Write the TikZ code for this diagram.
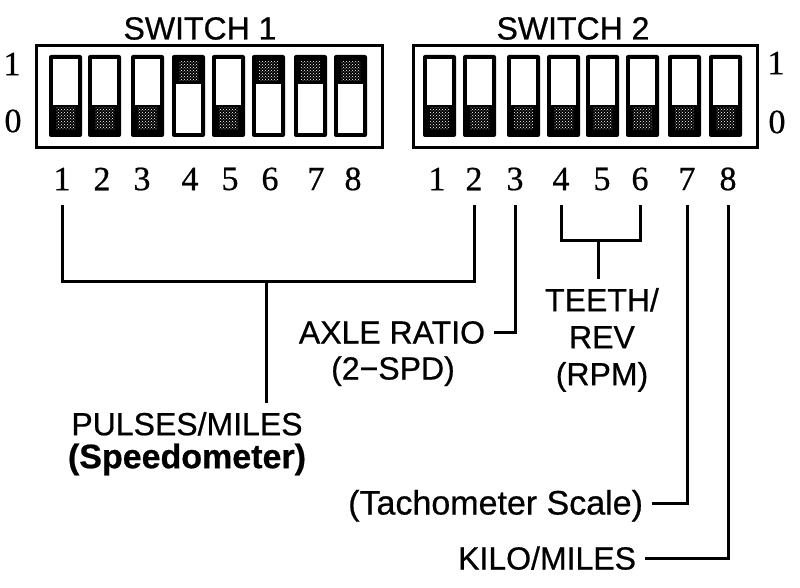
\documentclass[tikz,border=0pt]{standalone}
\usepackage{fontspec}
\setmainfont{Liberation Serif}
\setsansfont{Liberation Sans}
\newfontfamily\lblfont{Liberation Sans}[FakeBold=0.6]
\newfontfamily\numfont{Liberation Serif}[FakeBold=0.6]
\usepackage{tikz}
\usetikzlibrary{patterns}

% one slot of a dip switch: left edge, state (0 or 1)
\newcommand{\dipslot}[2]{%
  \fill[black, rounded corners=2pt] (#1,55) rectangle (#1+33,137);
  \fill[white] (#1+4,59) rectangle (#1+29,133);
  \ifnum#2=1
    \fill[black] (#1+4,59) rectangle (#1+29,84);
    \fill[pattern=crosshatch dots, pattern color=white] (#1+7,62) rectangle (#1+26,81);
  \else
    \fill[black] (#1+4,105) rectangle (#1+29,133);
    \fill[pattern=crosshatch dots, pattern color=white] (#1+7,108) rectangle (#1+26,130);
  \fi}

\begin{document}
\begin{tikzpicture}[x=1pt, y=-1pt,
  swnum/.style={font=\numfont\fontsize{34}{36}\selectfont, inner sep=0pt, outer sep=15pt},
  title/.style={font=\lblfont\fontsize{32}{34}\selectfont, text height=23pt, text depth=0pt, inner sep=0pt},
  lbl/.style={font=\lblfont\fontsize{32}{33}\selectfont, inner sep=0pt, outer sep=9pt, align=center},
  lblone/.style={lbl, text height=23pt, text depth=0pt},
  wire/.style={line width=3pt}]
\useasboundingbox (0,0) rectangle (800,588);
% the two switch blocks
\draw[line width=3pt] (36,46) rectangle (382,148);
\draw[line width=3pt] (413,46) rectangle (757,148);
\node[title] (sw1) at (200,28) {SWITCH 1};
\node[title] (sw2) at (573,28) {SWITCH 2};
\foreach \x/\s in {49/0,88/0,131/0,172/1,212/0,252/1,294/1,334/1}
  {\dipslot{\x}{\s}}
\foreach \x in {423,463,507,547,586,626,668,709}
  {\dipslot{\x}{0}}
% on/off marks
\node[swnum] (on1) at (12,64) {1};
\node[swnum] (off1) at (13,121) {0};
\node[swnum] (on2) at (776,63) {1};
\node[swnum] (off2) at (777,122) {0};
% position numbers
\foreach \n/\x in {1/62,2/102,3/142,4/190,5/230,6/270,7/316,8/353}
  \node[swnum] (s1n\n) at (\x,179) {\n};
\foreach \n/\x in {1/437,2/474,3/515,4/561,5/602,6/640,7/687,8/728}
  \node[swnum] (s2n\n) at (\x,179) {\n};
% labels
\node[lbl, anchor=north] (pulses) at (187,403) {PULSES/MILES\\\fontsize{34}{33}\selectfont\textbf{(Speedometer)}};
\node[lblone, anchor=east] (axle) at (494,332) {AXLE RATIO};
\node[lblone] (axlesub) at (393,368) {(2−SPD)};
\node[lbl, anchor=north, font=\lblfont\fontsize{32}{37}\selectfont] (teeth) at (602,279) {TEETH/\\REV\\(RPM)};
\node[lblone, anchor=east, font=\lblfont\fontsize{34}{36}\selectfont] (tach) at (652,503) {(Tachometer Scale)};
\node[lblone, anchor=east] (kilo) at (645,558) {KILO/MILES};
% connectors
\coordinate (pj) at (266,281);
\coordinate (tj) at (598,240);
\draw[wire] (s1n1.south) |- (pj) -| (s2n2.south);
\draw[wire] (pj) -- (pj |- pulses.north);
\draw[wire] (s2n3.south) |- (axle.east);
\draw[wire] (s2n4.south) |- (tj) -| (s2n6.south);
\draw[wire] (tj) -- (tj |- teeth.north);
\draw[wire] (s2n7.south) |- (tach.east);
\draw[wire] (s2n8.south) |- (kilo.east);
\end{tikzpicture}
\end{document}
